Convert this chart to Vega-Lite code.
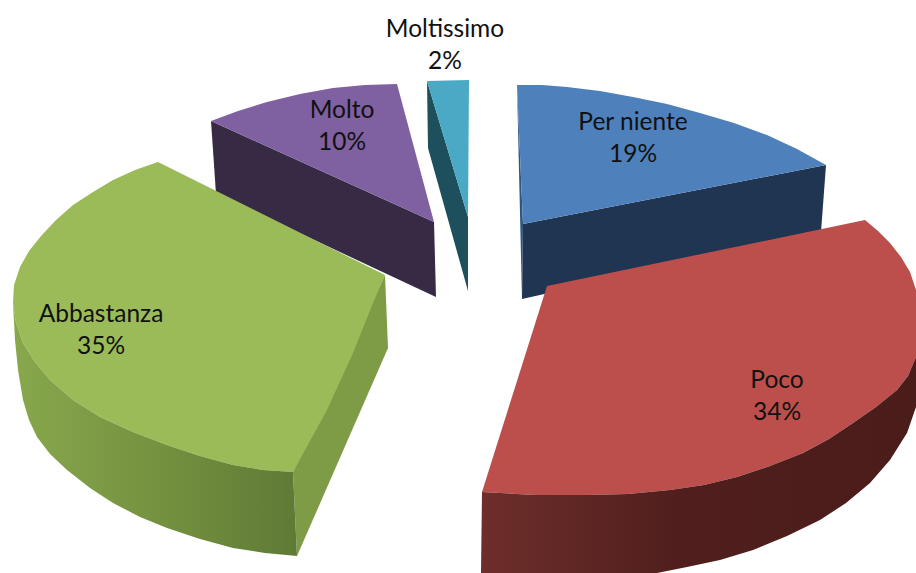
{"$schema":"https://vega.github.io/schema/vega-lite/v6.json","width":916,"height":573,"padding":0,"autosize":{"type":"fit","contains":"padding"},"background":"white","view":{"stroke":null},
"datasets":{"outline":[
{"face":"teal side","i":1,"x":427,"y":81},{"face":"teal side","i":2,"x":468,"y":217},{"face":"teal side","i":3,"x":468,"y":291},{"face":"teal side","i":4,"x":428,"y":148},
{"face":"teal top","i":1,"x":427,"y":81},{"face":"teal top","i":2,"x":469,"y":80},{"face":"teal top","i":3,"x":468,"y":217},
{"face":"purple side","i":1,"x":211,"y":121},{"face":"purple side","i":2,"x":434,"y":222},{"face":"purple side","i":3,"x":436,"y":297},{"face":"purple side","i":4,"x":216,"y":194},
{"face":"purple top","i":1,"x":397,"y":84},{"face":"purple top","i":2,"x":365,"y":85},{"face":"purple top","i":3,"x":333,"y":88},{"face":"purple top","i":4,"x":300,"y":94},{"face":"purple top","i":5,"x":267,"y":102},{"face":"purple top","i":6,"x":238,"y":111},{"face":"purple top","i":7,"x":211,"y":121},{"face":"purple top","i":8,"x":434,"y":222},
{"face":"blue inner","i":1,"x":517,"y":85},{"face":"blue inner","i":2,"x":523,"y":224},{"face":"blue inner","i":3,"x":522,"y":299},
{"face":"blue side","i":1,"x":523,"y":224},{"face":"blue side","i":2,"x":826,"y":165},{"face":"blue side","i":3,"x":821,"y":232},{"face":"blue side","i":4,"x":522,"y":299},
{"face":"blue top","i":1,"x":517,"y":85},{"face":"blue top","i":2,"x":542,"y":85},{"face":"blue top","i":3,"x":567,"y":87},{"face":"blue top","i":4,"x":600,"y":91},{"face":"blue top","i":5,"x":633,"y":97},{"face":"blue top","i":6,"x":667,"y":104},{"face":"blue top","i":7,"x":700,"y":113},{"face":"blue top","i":8,"x":734,"y":123},{"face":"blue top","i":9,"x":767,"y":135},{"face":"blue top","i":10,"x":797,"y":149},{"face":"blue top","i":11,"x":826,"y":165},{"face":"blue top","i":12,"x":523,"y":224},
{"face":"green cut","i":1,"x":385,"y":275},{"face":"green cut","i":2,"x":388,"y":348},{"face":"green cut","i":3,"x":297,"y":556},{"face":"green cut","i":4,"x":293,"y":472},
{"face":"green top","i":1,"x":158,"y":162},{"face":"green top","i":2,"x":385,"y":275},{"face":"green top","i":3,"x":373,"y":303},{"face":"green top","i":4,"x":353,"y":353},{"face":"green top","i":5,"x":327,"y":410},{"face":"green top","i":6,"x":293,"y":472},{"face":"green top","i":7,"x":263,"y":470},{"face":"green top","i":8,"x":233,"y":465},{"face":"green top","i":9,"x":200,"y":456},{"face":"green top","i":10,"x":167,"y":445},{"face":"green top","i":11,"x":133,"y":432},{"face":"green top","i":12,"x":100,"y":417},{"face":"green top","i":13,"x":73,"y":400},{"face":"green top","i":14,"x":50,"y":380},{"face":"green top","i":15,"x":35,"y":362},{"face":"green top","i":16,"x":23,"y":343},{"face":"green top","i":17,"x":16,"y":323},{"face":"green top","i":18,"x":13,"y":303},{"face":"green top","i":19,"x":14,"y":285},{"face":"green top","i":20,"x":20,"y":267},{"face":"green top","i":21,"x":29,"y":251},{"face":"green top","i":22,"x":41,"y":236},{"face":"green top","i":23,"x":56,"y":220},{"face":"green top","i":24,"x":73,"y":205},{"face":"green top","i":25,"x":93,"y":192},{"face":"green top","i":26,"x":113,"y":180},{"face":"green top","i":27,"x":135,"y":170},
{"face":"red top","i":1,"x":547,"y":286},{"face":"red top","i":2,"x":865,"y":220},{"face":"red top","i":3,"x":878,"y":231},{"face":"red top","i":4,"x":890,"y":243},{"face":"red top","i":5,"x":901,"y":257},{"face":"red top","i":6,"x":910,"y":272},{"face":"red top","i":7,"x":916,"y":290},{"face":"red top","i":8,"x":916,"y":357},{"face":"red top","i":9,"x":908,"y":376},{"face":"red top","i":10,"x":897,"y":390},{"face":"red top","i":11,"x":876,"y":407},{"face":"red top","i":12,"x":853,"y":423},{"face":"red top","i":13,"x":829,"y":439},{"face":"red top","i":14,"x":803,"y":453},{"face":"red top","i":15,"x":770,"y":466},{"face":"red top","i":16,"x":737,"y":477},{"face":"red top","i":17,"x":704,"y":485},{"face":"red top","i":18,"x":670,"y":490},{"face":"red top","i":19,"x":628,"y":494},{"face":"red top","i":20,"x":587,"y":495},{"face":"red top","i":21,"x":535,"y":495},{"face":"red top","i":22,"x":482,"y":492},
{"face":"green outer","i":1,"x":293,"y":472},{"face":"green outer","i":2,"x":263,"y":470},{"face":"green outer","i":3,"x":233,"y":465},{"face":"green outer","i":4,"x":200,"y":456},{"face":"green outer","i":5,"x":167,"y":445},{"face":"green outer","i":6,"x":133,"y":432},{"face":"green outer","i":7,"x":100,"y":417},{"face":"green outer","i":8,"x":73,"y":400},{"face":"green outer","i":9,"x":50,"y":380},{"face":"green outer","i":10,"x":35,"y":362},{"face":"green outer","i":11,"x":23,"y":343},{"face":"green outer","i":12,"x":16,"y":323},{"face":"green outer","i":13,"x":13,"y":303},{"face":"green outer","i":14,"x":15,"y":340},{"face":"green outer","i":15,"x":18,"y":370},{"face":"green outer","i":16,"x":23,"y":400},{"face":"green outer","i":17,"x":29,"y":420},{"face":"green outer","i":18,"x":37,"y":437},{"face":"green outer","i":19,"x":50,"y":454},{"face":"green outer","i":20,"x":67,"y":470},{"face":"green outer","i":21,"x":90,"y":488},{"face":"green outer","i":22,"x":113,"y":503},{"face":"green outer","i":23,"x":140,"y":517},{"face":"green outer","i":24,"x":167,"y":528},{"face":"green outer","i":25,"x":200,"y":539},{"face":"green outer","i":26,"x":233,"y":548},{"face":"green outer","i":27,"x":265,"y":553},{"face":"green outer","i":28,"x":297,"y":556},
{"face":"red outer","i":1,"x":482,"y":492},{"face":"red outer","i":2,"x":535,"y":495},{"face":"red outer","i":3,"x":587,"y":495},{"face":"red outer","i":4,"x":628,"y":494},{"face":"red outer","i":5,"x":670,"y":490},{"face":"red outer","i":6,"x":704,"y":485},{"face":"red outer","i":7,"x":737,"y":477},{"face":"red outer","i":8,"x":770,"y":466},{"face":"red outer","i":9,"x":803,"y":453},{"face":"red outer","i":10,"x":829,"y":439},{"face":"red outer","i":11,"x":853,"y":423},{"face":"red outer","i":12,"x":876,"y":407},{"face":"red outer","i":13,"x":897,"y":390},{"face":"red outer","i":14,"x":908,"y":376},{"face":"red outer","i":15,"x":916,"y":357},{"face":"red outer","i":16,"x":916,"y":407},{"face":"red outer","i":17,"x":907,"y":433},{"face":"red outer","i":18,"x":890,"y":460},{"face":"red outer","i":19,"x":870,"y":483},{"face":"red outer","i":20,"x":846,"y":503},{"face":"red outer","i":21,"x":820,"y":520},{"face":"red outer","i":22,"x":787,"y":536},{"face":"red outer","i":23,"x":753,"y":550},{"face":"red outer","i":24,"x":720,"y":560},{"face":"red outer","i":25,"x":687,"y":567},{"face":"red outer","i":26,"x":657,"y":573},{"face":"red outer","i":27,"x":481,"y":573}
],
"labels":[
{"label":"Per niente","share":"19%","x":633,"y":123},
{"label":"Poco","share":"34%","x":777,"y":381},
{"label":"Abbastanza","share":"35%","x":101,"y":315},
{"label":"Molto","share":"10%","x":342,"y":111},
{"label":"Moltissimo","share":"2%","x":445,"y":30}
]},
"data":{"name":"outline"},
"encoding":{
"x":{"field":"x","type":"quantitative","scale":{"domain":[0,916]},"axis":null},
"y":{"field":"y","type":"quantitative","scale":{"domain":[573,0]},"axis":null}
},
"layer":[
{"transform":[{"filter":"datum.face !== 'green outer' && datum.face !== 'red outer'"}],
"mark":{"type":"line","stroke":null,"clip":true},
"encoding":{"order":{"field":"i","type":"quantitative"},
"fill":{"field":"face","type":"nominal","legend":null,"scale":{"domain":["teal side","teal top","purple side","purple top","blue inner","blue side","blue top","green cut","green top","red top"],"range":["#1e4f5c","#4aa9c4","#362a45","#7f60a0","#2f5680","#1f3552","#4e80bc","#7e9b46","#9bbb59","#bc4f4b"]}}}},
{"transform":[{"filter":"datum.face === 'green outer'"}],
"mark":{"type":"line","stroke":null,"clip":true,"fill":{"gradient":"linear","x1":0,"y1":0,"x2":1,"y2":0,"stops":[{"offset":0,"color":"#88a84c"},{"offset":0.5,"color":"#759240"},{"offset":1,"color":"#5f7a35"}]}},
"encoding":{"order":{"field":"i","type":"quantitative"}}},
{"transform":[{"filter":"datum.face === 'red outer'"}],
"mark":{"type":"line","stroke":null,"clip":true,"fill":{"gradient":"linear","x1":0,"y1":0,"x2":1,"y2":0,"stops":[{"offset":0,"color":"#6e2e2b"},{"offset":0.45,"color":"#501f1d"},{"offset":1,"color":"#4a1c1a"}]}},
"encoding":{"order":{"field":"i","type":"quantitative"}}},
{"data":{"name":"labels"},"mark":{"type":"text","font":"Lato","fontSize":24.5,"color":"#111111","align":"center","baseline":"middle"},"encoding":{"text":{"field":"label"}}},
{"data":{"name":"labels"},"mark":{"type":"text","font":"Lato","fontSize":24.5,"color":"#111111","align":"center","baseline":"middle","dy":32},"encoding":{"text":{"field":"share"}}}
]}
